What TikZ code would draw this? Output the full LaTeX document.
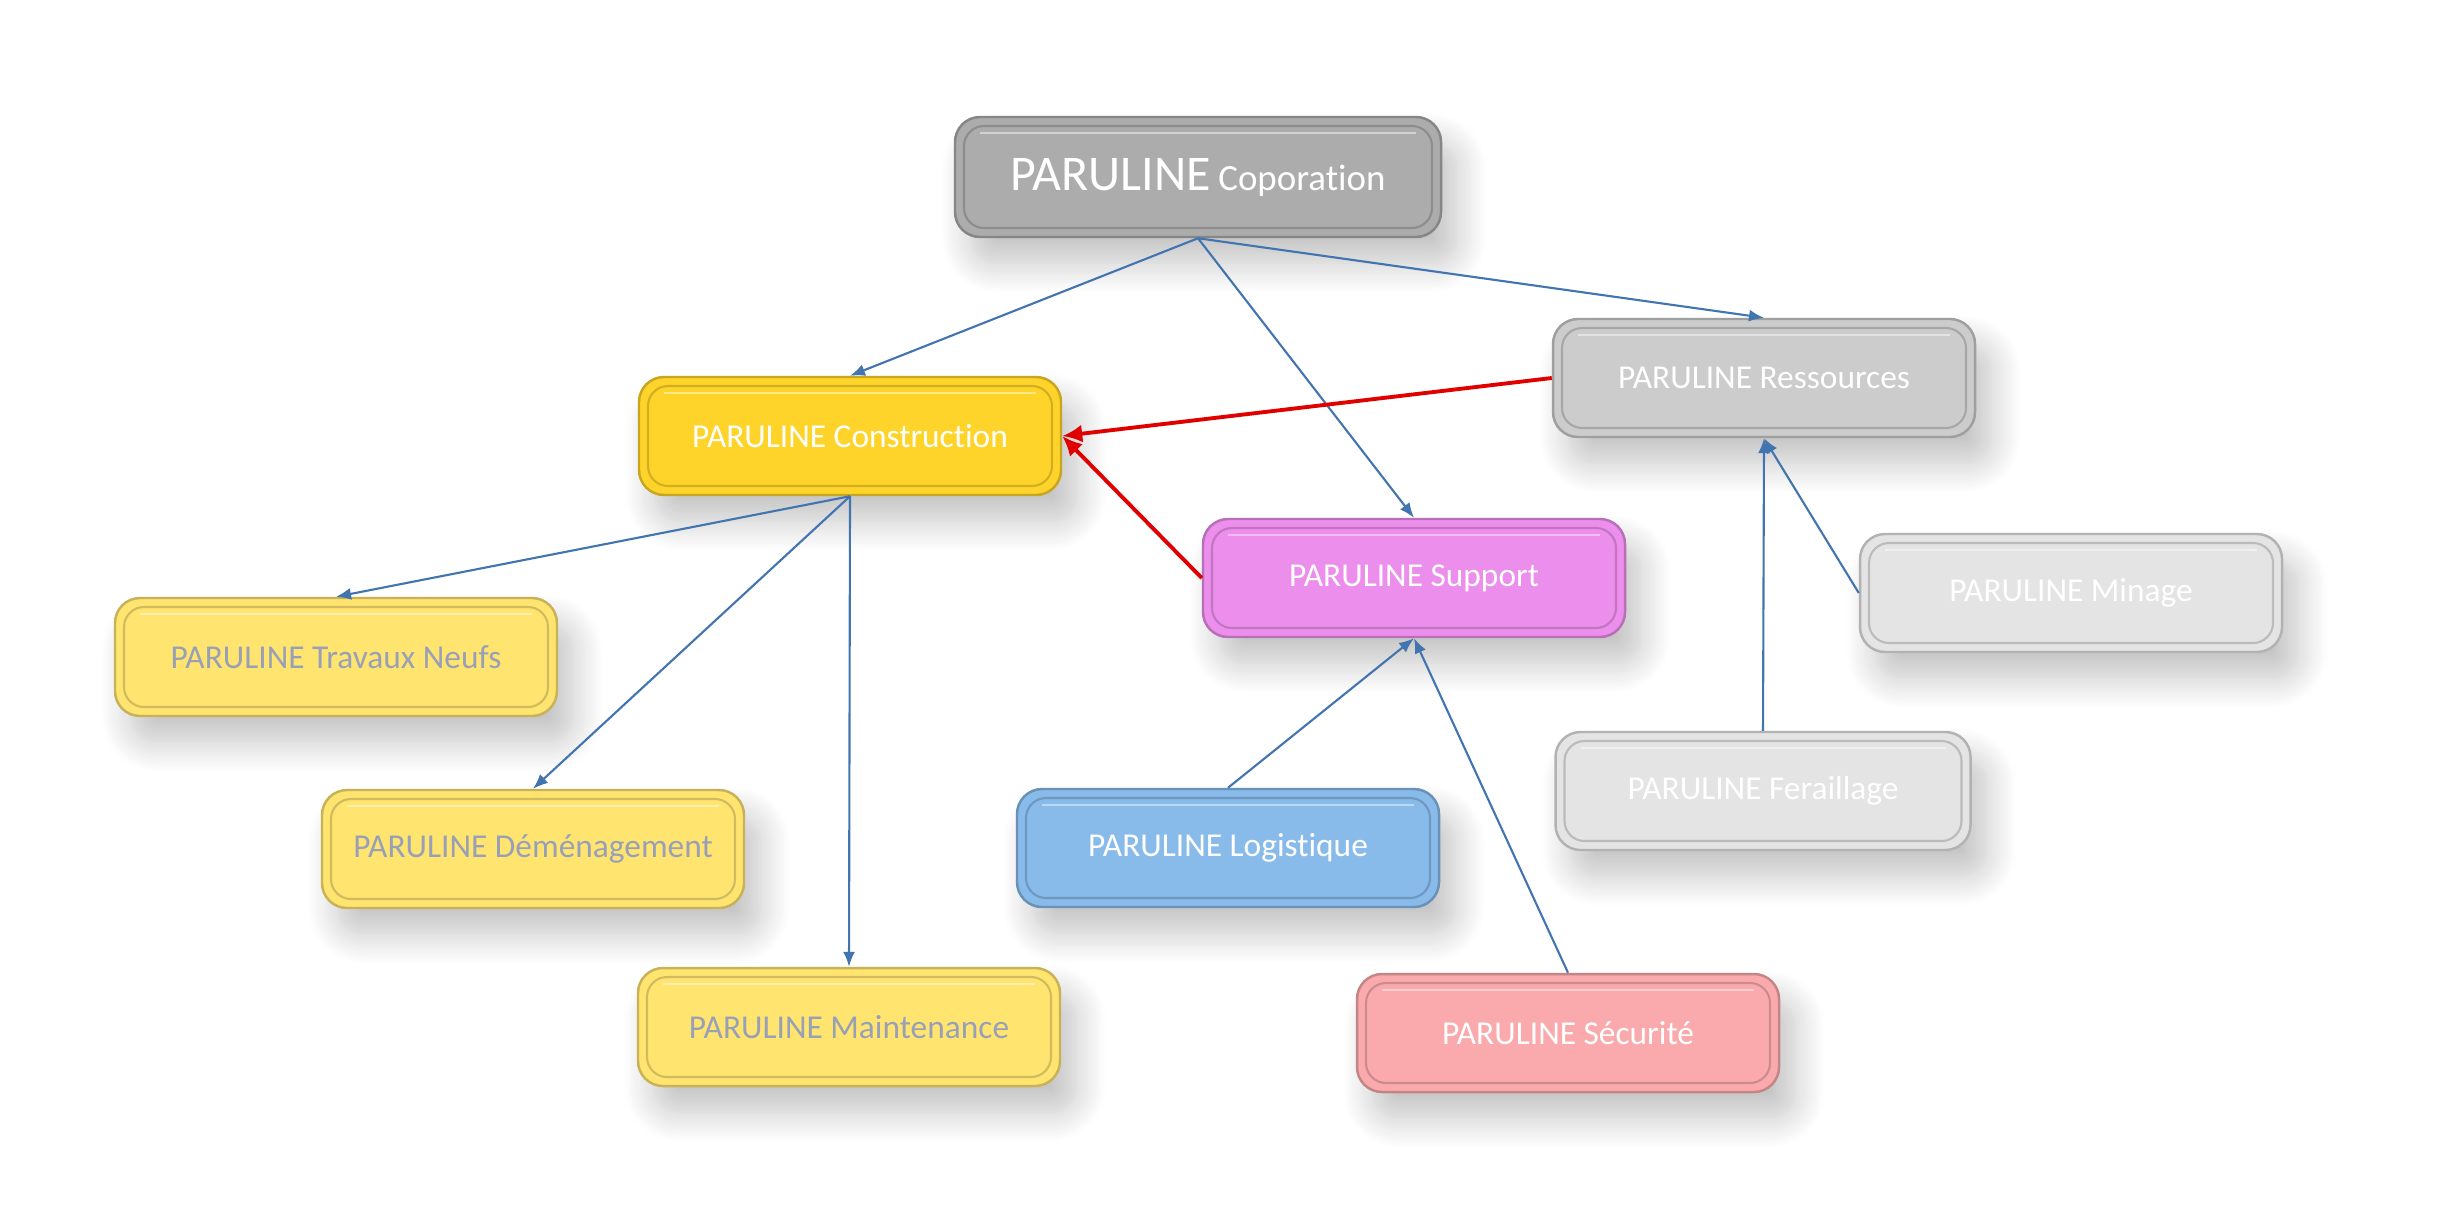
\documentclass[tikz,border=0pt]{standalone}
\usepackage{fontspec}
\setmainfont{Carlito}[Ligatures=NoCommon]
\usetikzlibrary{positioning,arrows.meta,shadows.blur}

\definecolor{corpgray}{RGB}{172,172,172}
\definecolor{resgray}{RGB}{204,204,204}
\definecolor{palegray}{RGB}{228,228,228}
\definecolor{gold}{RGB}{255,212,42}
\definecolor{paleyellow}{RGB}{255,228,112}
\definecolor{violet}{RGB}{236,142,236}
\definecolor{skyblue}{RGB}{136,186,234}
\definecolor{salmon}{RGB}{250,170,172}
\definecolor{linkblue}{RGB}{66,116,176}
\definecolor{sidetext}{RGB}{152,160,184}

\begin{document}
\begin{tikzpicture}[
  unit/.style={draw=#1!78!black, line width=0.7pt, fill=#1, rounded corners=2.5mm,
               minimum width=4.22cm, minimum height=1.18cm, text=white,
               font=\fontsize{9.5}{12}\selectfont,
               blur shadow={shadow xshift=1.6mm, shadow yshift=-2.6mm, shadow blur steps=14,
                            shadow blur radius=3mm, shadow opacity=24},
               path picture={\draw[#1!82!black, line width=0.6pt, rounded corners=2mm]
                 ([shift={(0.9mm,0.9mm)}]path picture bounding box.south west) rectangle
                 ([shift={(-0.9mm,-0.9mm)}]path picture bounding box.north east);
                 \draw[white, opacity=0.45, line width=0.8pt]
                 ([shift={(2.5mm,-1.6mm)}]path picture bounding box.north west) --
                 ([shift={(-2.5mm,-1.6mm)}]path picture bounding box.north east);}},
  link/.style={draw=linkblue, line width=0.6pt, -{Latex[length=1.5mm,width=1.2mm]}},
  clash/.style={draw=red!88!black, line width=1.1pt, -{Latex[length=2mm,width=1.8mm]}},
  ]
  \useasboundingbox (0,0) rectangle (24.6,-12.18);

  \node[unit=corpgray, minimum width=4.86cm, minimum height=1.2cm] (corp) at (11.98,-1.77)
        {{\fontsize{14.2}{16}\selectfont PARULINE} {\fontsize{10.5}{12}\selectfont Coporation}};
  \node[unit=gold] (cons) at (8.50,-4.36) {PARULINE Construction};
  \node[unit=violet] (supp) at (14.14,-5.78) {PARULINE Support};
  \node[unit=resgray] (ress) at (17.64,-3.78) {PARULINE Ressources};

  \node[unit=paleyellow, minimum width=4.42cm, text=sidetext] (trav) at (3.36,-6.57) {PARULINE Travaux Neufs};
  \node[unit=paleyellow, text=sidetext] (dem) at (5.33,-8.49) {PARULINE Déménagement};
  \node[unit=paleyellow, text=sidetext] (maint) at (8.49,-10.27) {PARULINE Maintenance};

  \node[unit=skyblue] (log) at (12.28,-8.48) {PARULINE Logistique};
  \node[unit=salmon] (sec) at (15.68,-10.33) {PARULINE Sécurité};

  \node[unit=palegray] (min) at (20.71,-5.93) {PARULINE Minage};
  \node[unit=palegray, minimum width=4.15cm] (fer) at (17.63,-7.91) {PARULINE Feraillage};

  % top level
  \draw[link] (corp.south) -- (cons.north);
  \draw[link] (corp.south) -- (supp.north);
  \draw[link] (corp.south) -- (ress.north);
  % support units feeding construction
  \draw[clash] (ress.west) -- (cons.east);
  \draw[clash] (supp.west) -- (cons.east);
  % construction branches
  \draw[link] (cons.south) -- (trav.north);
  \draw[link] (cons.south) -- (dem.north);
  \draw[link] (cons.south) -- (maint.north);
  % support branches
  \draw[link] (log.north) -- (supp.south);
  \draw[link] (sec.north) -- (supp.south);
  % resource branches
  \draw[link] (fer.north) -- (ress.south);
  \draw[link] (min.west) -- (ress.south);
\end{tikzpicture}
\end{document}
